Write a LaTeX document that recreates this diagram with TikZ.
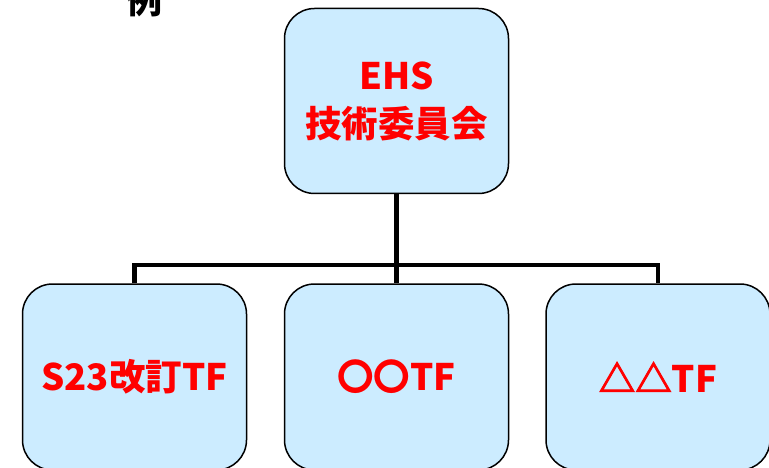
\documentclass[tikz,border=0pt]{standalone}
\usepackage{fontspec}
\newfontfamily\cjk{Noto Sans CJK JP}
\newfontfamily\cjktri{Noto Sans CJK JP}[FakeBold=2.5]
\definecolor{boxfill}{HTML}{CCECFF}
\definecolor{txtred}{HTML}{FF0000}
\begin{document}
\begin{tikzpicture}[x=1pt,y=-1pt,
  orgbox/.style={draw=black,line width=1.5pt,fill=boxfill,rounded corners=30pt,
    minimum width=224pt,inner sep=0pt,font=\cjk\bfseries\fontsize{36.5}{48}\selectfont,
    text=txtred,align=center},
  link/.style={line width=4.5pt,black}]
\useasboundingbox (0,0) rectangle (769,468);
\clip (0,0) rectangle (769,468);
\node[orgbox,minimum height=185pt] (top) at (396.5,101) {EHS\\技術委員会};
\node[orgbox,minimum height=186pt] (b1) at (134.5,377) {S23改訂TF};
\node[orgbox,minimum height=186pt] (b2) at (396.5,377) {〇〇TF};
\node[orgbox,minimum height=186pt] (b3) at (658,377) {{\cjktri\bfseries △△}TF};
\coordinate (hub) at (396.5,265);
\draw[link] (top.south) -- (hub);
\draw[link] (b1.north) |- (hub) -| (b3.north);
\draw[link] (hub) -- (b2.north);
\node[font=\cjk\bfseries\fontsize{36}{36}\selectfont,anchor=base] (rei) at (144,14) {例};
\end{tikzpicture}
\end{document}
